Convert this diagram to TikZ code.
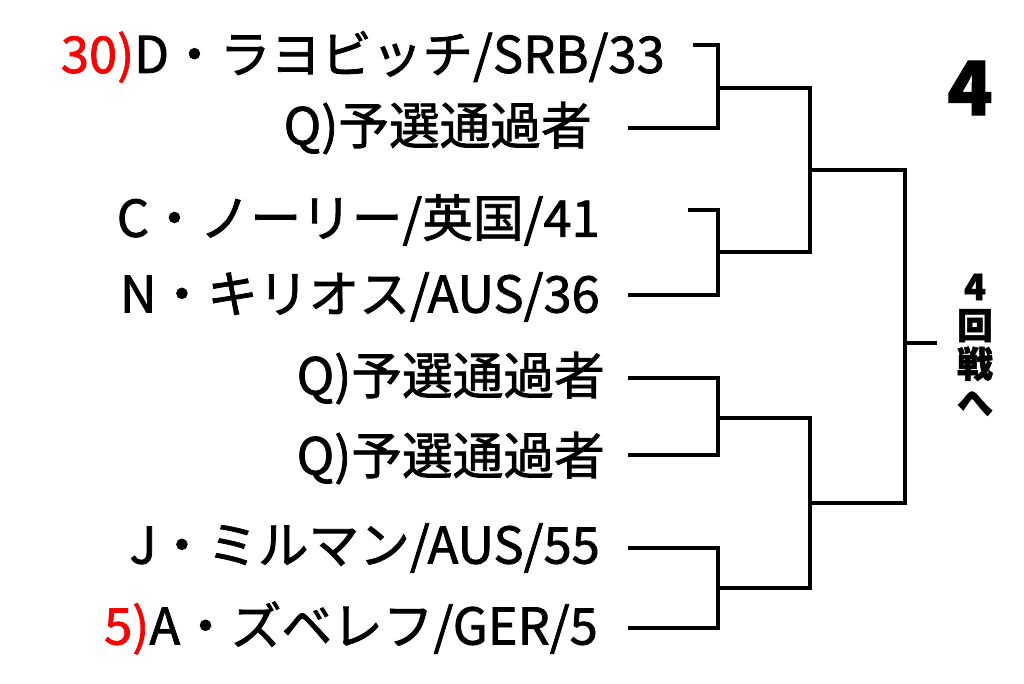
\documentclass[tikz,border=0pt]{standalone}
\usepackage{fontspec}
\setmainfont{Noto Sans CJK JP}[FakeBold=1.5]
\begin{document}
\begin{tikzpicture}[x=0.75pt,y=-0.75pt,
  ent/.style={anchor=east,inner sep=0pt,font=\fontsize{38}{38}\selectfont},
  ln/.style={line width=3.3pt,line cap=rect}]
\useasboundingbox (0,0) rectangle (1024,683);
\node[ent] (e1) at (665,57) {\textcolor{red}{30)}D・ラヨビッチ/SRB/33};
\node[ent] (e2) at (592,128) {Q)予選通過者};
\node[ent] (e3) at (600,220) {C・ノーリー/英国/41};
\node[ent] (e4) at (600,297) {N・キリオス/AUS/36};
\node[ent] (e5) at (605,378) {Q)予選通過者};
\node[ent] (e6) at (605,458) {Q)予選通過者};
\node[ent] (e7) at (600,548) {J・ミルマン/AUS/55};
\node[ent] (e8) at (598,628) {\textcolor{red}{5)}A・ズベレフ/GER/5};
\node[font=\fontsize{56}{56}\selectfont\bfseries] (r4) at (970,88) {4};
\node[font=\fontsize{27}{29}\selectfont\bfseries,align=center,inner sep=0pt] (nx) at (975,345) {4\\回\\戦\\へ};
\coordinate (a1) at (695,45); \coordinate (a2) at (630,128);
\coordinate (a3) at (690,210); \coordinate (a4) at (630,295);
\coordinate (a5) at (630,378); \coordinate (a6) at (630,455);
\coordinate (a7) at (630,548); \coordinate (a8) at (630,628);
\draw[ln] (a1) -- (718,45) -- (718,128) -- (a2);
\draw[ln] (a3) -- (718,210) -- (718,295) -- (a4);
\draw[ln] (a5) -- (718,378) -- (718,455) -- (a6);
\draw[ln] (a7) -- (718,548) -- (718,628) -- (a8);
\draw[ln] (718,88) -- (810,88) -- (810,252) -- (718,252);
\draw[ln] (718,418) -- (810,418) -- (810,588) -- (718,588);
\draw[ln] (810,170) -- (905,170) -- (905,503) -- (810,503);
\draw[ln] (905,343) -- (935,343);
\end{tikzpicture}
\end{document}
